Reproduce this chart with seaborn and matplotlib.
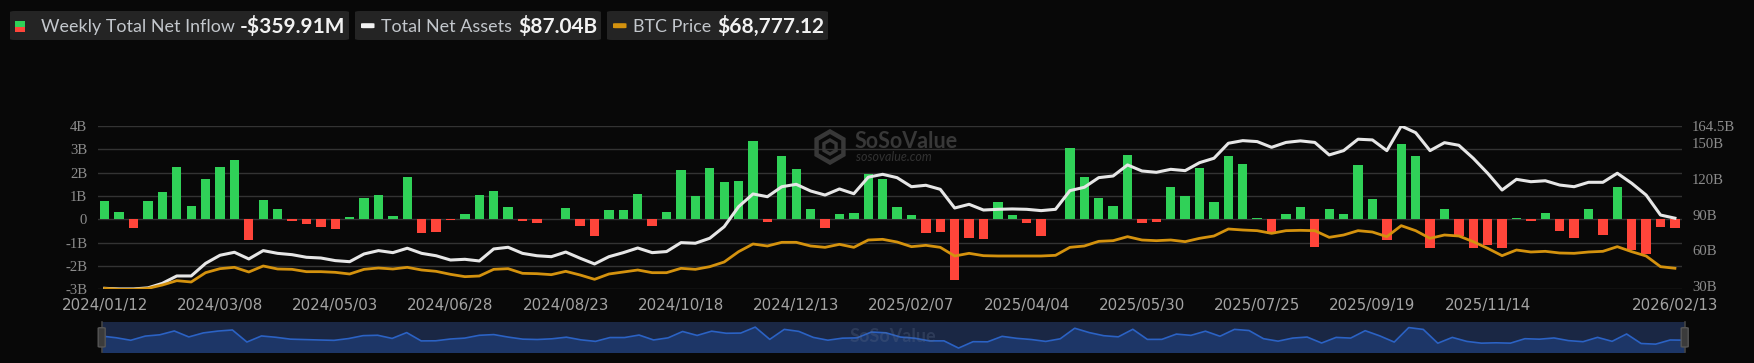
import numpy as np
import pandas as pd
import matplotlib
matplotlib.use("Agg")
import matplotlib.pyplot as plt
import seaborn as sns
from matplotlib.patches import FancyBboxPatch, RegularPolygon

# ---------------- data ----------------
weeks = pd.date_range("2024-01-12", periods=110, freq="7D").strftime("%Y/%m/%d").tolist()

inflow_b = [
    0.80, 0.33, -0.39, 0.80, 1.17, 2.26, 0.56, 1.71, 2.23, 2.54,
    -0.89, 0.84, 0.46, -0.07, -0.19, -0.31, -0.41, 0.10, 0.93, 1.04,
    0.14, 1.80, -0.57, -0.54, -0.03, 0.23, 1.03, 1.23, 0.51, -0.07,
    -0.17, 0.03, 0.49, -0.27, -0.70, 0.39, 0.39, 1.10, -0.30, 0.30,
    2.11, 0.99, 2.20, 1.61, 1.66, 3.36, -0.13, 2.71, 2.14, 0.43,
    -0.37, 0.21, 0.29, 1.95, 1.74, 0.53, 0.19, -0.57, -0.56, -2.61,
    -0.79, -0.83, 0.73, 0.17, -0.17, -0.71, 0.03, 3.04, 1.80, 0.91,
    0.59, 2.74, -0.14, -0.13, 1.37, 1.01, 2.20, 0.76, 2.71, 2.39,
    0.06, -0.64, 0.23, 0.53, -1.17, 0.43, 0.23, 2.34, 0.87, -0.90,
    3.23, 2.70, -1.23, 0.43, -0.71, -1.21, -1.11, -1.21, 0.06, -0.08,
    0.27, -0.49, -0.79, 0.44, -0.69, 1.40, -1.31, -1.49, -0.31, -0.36,
]

net_assets_b = [
    28.1, 27.6, 27.6, 28.5, 32.3, 38.5, 38.5, 49.1, 55.9, 58.4,
    52.8, 59.8, 57.5, 56.4, 54.2, 53.6, 51.4, 50.5, 57.0, 59.8,
    58.1, 61.8, 57.5, 55.5, 51.9, 52.5, 51.1, 61.2, 62.6, 57.5,
    55.5, 54.7, 58.6, 53.4, 48.6, 54.7, 58.1, 62.0, 58.1, 59.0,
    66.5, 66.0, 70.2, 79.9, 96.7, 107.4, 105.1, 113.5, 115.5, 109.9,
    106.5, 111.6, 107.6, 121.5, 123.9, 121.1, 113.5, 114.7, 111.3, 95.6,
    98.7, 93.9, 94.5, 94.8, 94.5, 93.4, 94.5, 110.2, 113.0, 121.1,
    122.5, 131.8, 126.7, 125.6, 128.1, 127.0, 133.7, 137.4, 150.0, 152.2,
    151.4, 146.6, 150.7, 152.0, 150.7, 140.2, 143.8, 153.4, 152.8, 143.8,
    164.5, 158.9, 143.8, 150.5, 148.3, 137.4, 124.8, 110.7, 119.7, 117.7,
    118.5, 114.9, 113.5, 117.2, 117.2, 124.8, 116.4, 106.5, 89.7, 87.04,
]

btc_price = [
    43710, 42460, 42460, 43710, 47875, 53290, 51625, 63290, 68290, 69960,
    64125, 71625, 67875, 67460, 64540, 64540, 63710, 61625, 67460, 69125,
    67875, 69960, 66625, 64960, 61210, 58290, 59125, 67460, 68290, 62460,
    62040, 60790, 64960, 60375, 54960, 61625, 64125, 66625, 63290, 63290,
    68710, 67460, 70790, 76625, 89540, 99125, 96625, 101210, 101210, 96625,
    94960, 98710, 94960, 104125, 104960, 101625, 95790, 97460, 94960, 84125,
    87460, 84540, 84125, 84125, 84125, 84125, 84960, 94960, 96625, 102460,
    103290, 108290, 104125, 103290, 104125, 102040, 106210, 109125, 117875, 116625,
    115790, 112460, 115790, 116210, 115790, 107460, 110375, 115790, 114125, 108290,
    122040, 115790, 106210, 110375, 109125, 102040, 93710, 84540, 91625, 89125,
    89960, 87875, 87460, 89125, 89960, 95790, 89540, 84125, 70790, 68777.12,
]

tick_labels = ["2024/01/12", "2024/03/08", "2024/05/03", "2024/06/28", "2024/08/23",
               "2024/10/18", "2024/12/13", "2025/02/07", "2025/04/04", "2025/05/30",
               "2025/07/25", "2025/09/19", "2025/11/14", "2026/02/13"]
left_ticks = [-3, -2, -1, 0, 1, 2, 3, 4]
left_tick_labels = ["-3B", "-2B", "-1B", "0", "1B", "2B", "3B", "4B"]
right_ticks = [30, 60, 90, 120, 150, 164.5]
right_tick_labels = ["30B", "60B", "90B", "120B", "150B", "164.5B"]

legend_labels = ["Weekly Total Net Inflow", "Total Net Assets", "BTC Price"]
legend_values = ["-$359.91M", "$87.04B", "$68,777.12"]

# ---------------- style ----------------
BG = "#080808"
GREEN = "#30d158"
RED = "#ff453a"
WHITE_LINE = "#e6e6e6"
ORANGE = "#d4920e"
GRID = "#333333"
TICK = "#8c8c8c"
WM = "#383838"

W, H = 1754, 363
fig = plt.figure(figsize=(W / 100, H / 100), dpi=100, facecolor=BG)

def fx(px):
    return px / W

def fy(py):
    return 1 - py / H

left, right, top, bottom = 97.7, 1681.7, 126.0, 289.3
ax = fig.add_axes([fx(left), fy(bottom), fx(right - left), (bottom - top) / H])
ax.set_facecolor(BG)

n = len(weeks)
df = pd.DataFrame({"week": weeks, "inflow": inflow_b,
                   "sign": ["pos" if v >= 0 else "neg" for v in inflow_b]})
sns.barplot(data=df, x="week", y="inflow", hue="sign", order=weeks,
            palette={"pos": GREEN, "neg": RED}, dodge=False, width=0.65,
            saturation=1, legend=False, ax=ax, zorder=2)

ax.set_xlim(-0.49, n - 1 + 0.47)
ax.set_ylim(-3, 4)
ax.set_yticks(left_ticks)
ax.set_yticklabels(left_tick_labels, family="Liberation Serif", fontsize=10.6, color=TICK)
tick_idx = [weeks.index(t) for t in tick_labels]
ax.set_xticks(tick_idx)
ax.set_xticklabels(tick_labels, family="DejaVu Sans", fontsize=10.8, color="#a3a3a3")
ax.tick_params(axis="both", length=0)
ax.tick_params(axis="y", pad=7.5)
ax.tick_params(axis="x", pad=6)
ax.set_xlabel("")
ax.set_ylabel("")
ax.grid(axis="y", color=GRID, lw=1.0)
ax.grid(axis="x", visible=False)
ax.set_axisbelow(True)
for s in ax.spines.values():
    s.set_visible(False)

# watermark (behind lines, above grid)
ax.add_patch(RegularPolygon((830 / 100, (H - 147) / 100), 6, radius=0.155, orientation=0,
                            transform=fig.dpi_scale_trans, fill=False,
                            edgecolor=WM, lw=3.2, zorder=1))
ax.add_patch(RegularPolygon((830 / 100, (H - 147) / 100), 6, radius=0.07, orientation=0,
                            transform=fig.dpi_scale_trans, fill=False,
                            edgecolor=WM, lw=2.4, zorder=1))
fig.text(fx(855), fy(142), "SoSoValue", family="Lato", fontweight="bold",
         fontsize=15.5, color=WM, va="center", ha="left", zorder=0.5)
fig.text(fx(856), fy(157), "sosovalue.com", family="Lato", style="italic",
         fontsize=9, color="#323232", va="center", ha="left", zorder=0.5)

x = np.arange(n)
ax2 = ax.twinx()
sns.lineplot(x=x, y=net_assets_b, ax=ax2, color=WHITE_LINE, lw=2.2)
ax2.set_ylim(27.3, 164.5)
ax2.set_yticks(right_ticks)
ax2.set_yticklabels(right_tick_labels, family="Liberation Serif", fontsize=10.6, color=TICK)
ax2.tick_params(axis="y", length=0, pad=7.5)
ax2.set_ylabel("")
for s in ax2.spines.values():
    s.set_visible(False)

ax3 = ax.twinx()
sns.lineplot(x=x, y=btc_price, ax=ax3, color=ORANGE, lw=2.0)
ax3.set_ylim(42500, 42500 + 163.3 * 1250)
ax3.yaxis.set_visible(False)
for s in ax3.spines.values():
    s.set_visible(False)
ax.set_xlim(-0.49, n - 1 + 0.47)

# ---------------- legend boxes ----------------
boxes = [(10, 349), (355, 601), (607, 828)]
label_x = [41, 381, 633]
value_x = [240, 518, 717]
for (x0, x1) in boxes:
    fig.patches.append(FancyBboxPatch((fx(x0), fy(40)), fx(x1 - x0), 29 / H,
                                      boxstyle="round,pad=0,rounding_size=0.003",
                                      transform=fig.transFigure, facecolor="#242424",
                                      edgecolor="none", zorder=1))
# icons
fig.patches.append(plt.Rectangle((fx(15), fy(26.7)), fx(10), 5.7 / H, transform=fig.transFigure,
                                 facecolor=GREEN, edgecolor="none", zorder=2))
fig.patches.append(plt.Rectangle((fx(15), fy(31.7)), fx(10), 5.0 / H, transform=fig.transFigure,
                                 facecolor=RED, edgecolor="none", zorder=2))
fig.patches.append(FancyBboxPatch((fx(361), fy(28.2)), fx(13.5), 5 / H,
                                  boxstyle="round,pad=0,rounding_size=0.0013",
                                  transform=fig.transFigure, facecolor="#f2f2f2",
                                  edgecolor="none", zorder=2))
fig.patches.append(FancyBboxPatch((fx(613), fy(28.2)), fx(13.5), 5 / H,
                                  boxstyle="round,pad=0,rounding_size=0.0013",
                                  transform=fig.transFigure, facecolor=ORANGE,
                                  edgecolor="none", zorder=2))
for lab, val, lx, vx in zip(legend_labels, legend_values, label_x, value_x):
    fig.text(fx(lx), fy(32.3), lab, family="Lato", fontsize=12.9, color="#c3c7cc",
             va="baseline", ha="left", zorder=3)
    fig.text(fx(vx), fy(33.0), val, family="Lato", fontweight="bold", fontsize=15,
             color="#f2f2f2", va="baseline", ha="left", zorder=3)

# ---------------- zoom slider ----------------
s_left, s_right, s_top, s_bot = 101.7, 1684.7, 322.3, 351.7
axs = fig.add_axes([fx(s_left), fy(s_bot), fx(s_right - s_left), (s_bot - s_top) / H])
axs.set_facecolor("#1a2744")
axs.fill_between(x, inflow_b, -10, color="#1d3667", lw=0)
sns.lineplot(x=x, y=inflow_b, ax=axs, color="#2b62c4", lw=1.2)
axs.set_xlim(0, n - 1)
axs.set_ylim(-3.64, 4.73)
axs.set_xticks([])
axs.set_yticks([])
axs.set_xlabel("")
axs.set_ylabel("")
for s in axs.spines.values():
    s.set_visible(False)
axs.text(0.5, 0.5, "SoSoValue", transform=axs.transAxes, family="Lato", fontweight="bold",
         fontsize=13, color="#5a6a88", alpha=0.3, ha="center", va="center")
for hx in (s_left, s_right):
    fig.add_artist(plt.Line2D([fx(hx), fx(hx)], [fy(s_bot), fy(s_top)],
                              transform=fig.transFigure, color="#444444", lw=1.2, zorder=6))
    fig.patches.append(FancyBboxPatch((fx(hx - 3.5), fy(347)), fx(7), 19.3 / H,
                                      boxstyle="round,pad=0,rounding_size=0.0015",
                                      transform=fig.transFigure, facecolor="#3b3b3b",
                                      edgecolor="#555555", lw=1, zorder=7))

fig.savefig("out.png", dpi=100, facecolor=BG)
